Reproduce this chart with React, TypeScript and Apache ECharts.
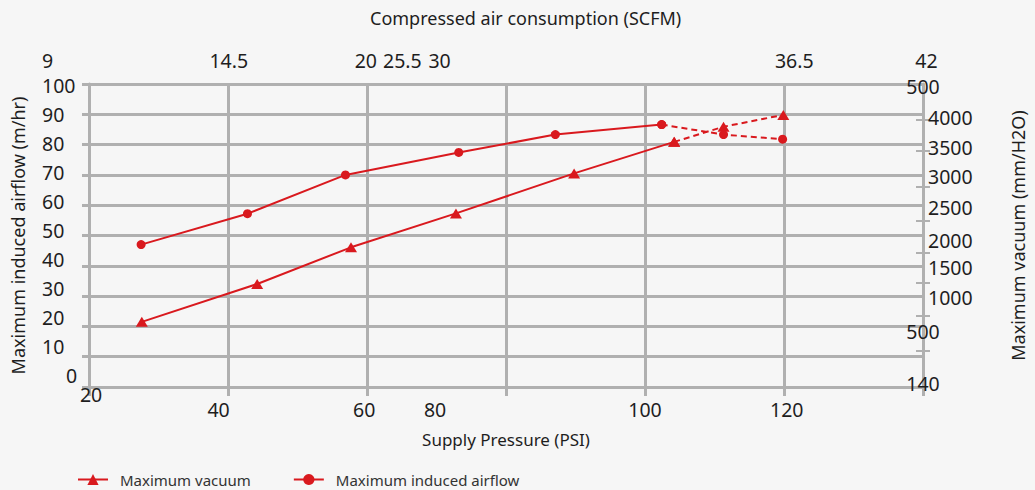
import React, { useEffect, useRef } from "react";
import * as echarts from "echarts";

// ---- data ----
const vacuumPressure = [27.6, 44.2, 57.7, 72.8, 89.8, 104.2, 111.3, 119.9];
const vacuumValue = [21.5, 34.0, 46.1, 57.3, 70.5, 80.9, 85.9, 89.8];
const airflowPressure = [27.5, 42.8, 56.9, 73.2, 87.1, 102.4, 111.3, 119.8];
const airflowValue = [47.0, 57.2, 70.0, 77.4, 83.3, 86.6, 83.3, 81.8];
const solidCount = 6; // first points solid, the rest dashed

// ---- tick labels ----
const bottomLabels = ["40", "60", "80", "100", "120"];
const bottomLabelAt = [38.65, 59.6, 69.8, 100.0, 120.4];
const bottomFirstLabel = ["20"];
const bottomFirstLabelAt = [20.3];
const topLabels = ["9", "14.5", "20", "25.5", "30", "36.5", "42"];
const topLabelAt = [14.1, 39.9, 59.4, 64.6, 69.9, 120.4, 139.2];
const rightLabels = ["4000", "3500", "3000", "2500", "2000", "1500", "1000"];
const rightLabelAt = [89.1, 79.2, 69.6, 59.4, 48.5, 39.6, 29.4];
const rightEdgeLabels = ["500", "500", "140"];
const rightEdgeLabelAt = [99.3, 18.2, 1.3];
const rightTickAt = [88.1, 77.9, 66.0, 54.8, 44.2, 34.3, 23.4, 11.9];

const RED = "#d9191e";
const GRID = "#b0b0b0";
const TXT = "#1e1e1e";
const FONT = "Noto Sans";

function pick(labels: string[], at: number[]) {
  return (v: number) => {
    let best = 0;
    for (let i = 1; i < at.length; i++) {
      if (Math.abs(at[i] - v) < Math.abs(at[best] - v)) best = i;
    }
    return labels[best];
  };
}

export default function App() {
  const ref = useRef<HTMLDivElement>(null);
  useEffect(() => {
    document.body.style.margin = "0";
    const chart = echarts.init(ref.current!, null, { renderer: "svg" });
    const pts = (xs: number[], ys: number[], a: number, b: number) =>
      xs.slice(a, b).map((x, i) => [x, ys[a + i]]);
    const labelStyle = { fontFamily: FONT, fontSize: 19.5, color: TXT };
    const nameStyle = { fontFamily: FONT, fontSize: 18, color: TXT };
    const gridLine = { color: GRID, width: 3 };

    const lineSeries = (name: string, xs: number[], ys: number[], symbol: string, size: any) => [
      {
        name,
        type: "line",
        xAxisIndex: 0,
        yAxisIndex: 0,
        data: pts(xs, ys, 0, solidCount),
        symbol,
        symbolSize: size,
        lineStyle: { color: RED, width: 2 },
        itemStyle: { color: RED },
        z: 5,
      },
      {
        name,
        type: "line",
        xAxisIndex: 0,
        yAxisIndex: 0,
        data: pts(xs, ys, solidCount - 1, xs.length),
        symbol,
        symbolSize: size,
        lineStyle: { color: RED, width: 2, type: [6, 4] },
        itemStyle: { color: RED },
        z: 5,
      },
    ];

    chart.setOption({
      animation: false,
      backgroundColor: "#f6f6f6",
      title: {
        text: "Compressed air consumption (SCFM)",
        left: 370,
        top: 9,
        padding: 0,
        textStyle: { fontFamily: FONT, fontSize: 18, fontWeight: "normal", color: TXT },
      },
      legend: {
        left: 77,
        top: 472,
        padding: 0,
        itemWidth: 30,
        itemHeight: 14,
        itemGap: 42,
        data: ["Maximum vacuum", "Maximum induced airflow"],
        textStyle: { fontFamily: FONT, fontSize: 15, color: "#333", padding: [0, 0, 0, 7] },
      },
      grid: [
        { left: 89, right: 103, top: 84, bottom: 103 },
        { left: 18.75, right: 103, top: 84, bottom: 103 },
        { left: 89, right: 103, top: 85.5, bottom: 115 },
      ],
      xAxis: [
        {
          type: "value",
          gridIndex: 0,
          position: "bottom",
          min: 20,
          max: 140,
          interval: 20,
          name: "Supply Pressure (PSI)",
          nameLocation: "middle",
          nameGap: 44,
          nameTextStyle: { ...nameStyle, fontSize: 17 },
          axisLine: { show: true, lineStyle: gridLine },
          axisTick: { show: true, length: 9, lineStyle: gridLine },
          splitLine: { show: true, lineStyle: gridLine },
          axisLabel: {
            ...labelStyle,
            margin: 12,
            customValues: bottomLabelAt,
            formatter: pick(bottomLabels, bottomLabelAt),
          },
        },
        {
          type: "value",
          gridIndex: 0,
          position: "top",
          min: 20,
          max: 140,
          interval: 20,
          axisLine: { show: false },
          axisTick: { show: true, length: 6, lineStyle: gridLine },
          splitLine: { show: false },
          axisLabel: { show: false },
        },
        {
          type: "value",
          gridIndex: 0,
          position: "bottom",
          min: 20,
          max: 140,
          axisLine: { show: false },
          axisTick: { show: false },
          splitLine: { show: false },
          axisLabel: {
            ...labelStyle,
            margin: -3,
            customValues: bottomFirstLabelAt,
            formatter: pick(bottomFirstLabel, bottomFirstLabelAt),
          },
        },
        {
          type: "value",
          gridIndex: 1,
          position: "top",
          min: 10,
          max: 140,
          axisLine: { show: false },
          axisTick: { show: false },
          splitLine: { show: false },
          axisLabel: {
            ...labelStyle,
            margin: 14,
            customValues: topLabelAt,
            formatter: pick(topLabels, topLabelAt),
          },
        },
        {
          type: "value",
          gridIndex: 2,
          min: 0,
          max: 1,
          show: false,
        },
      ],
      yAxis: [
        {
          type: "value",
          gridIndex: 0,
          position: "left",
          min: 0,
          max: 100,
          interval: 10,
          name: "Maximum induced airflow (m/hr)",
          nameLocation: "middle",
          nameRotate: 90,
          nameGap: 62,
          nameTextStyle: nameStyle,
          axisLine: { show: true, lineStyle: gridLine },
          axisTick: { show: true, length: 7, lineStyle: gridLine },
          splitLine: { show: true, lineStyle: gridLine },
          axisLabel: { show: false },
        },
        {
          type: "value",
          gridIndex: 0,
          position: "right",
          min: 0,
          max: 100,
          name: "Maximum vacuum (mm/H2O)",
          nameLocation: "middle",
          nameRotate: 90,
          nameGap: 86,
          nameTextStyle: nameStyle,
          axisLine: { show: true, lineStyle: gridLine },
          axisTick: { show: true, length: 7, customValues: rightTickAt, lineStyle: { color: GRID, width: 2 } },
          splitLine: { show: false },
          axisLabel: {
            ...labelStyle,
            align: "left",
            margin: 5,
            customValues: rightLabelAt,
            formatter: pick(rightLabels, rightLabelAt),
          },
        },
        {
          type: "value",
          gridIndex: 0,
          position: "right",
          min: 0,
          max: 100,
          axisLine: { show: false },
          axisTick: { show: true, inside: true, length: 7, customValues: rightTickAt, lineStyle: { color: GRID, width: 2 } },
          splitLine: { show: false },
          axisLabel: {
            ...labelStyle,
            align: "center",
            margin: 0,
            customValues: rightEdgeLabelAt,
            formatter: pick(rightEdgeLabels, rightEdgeLabelAt),
          },
        },
        {
          type: "value",
          gridIndex: 1,
          min: 0,
          max: 1,
          show: false,
        },
        {
          type: "value",
          gridIndex: 2,
          position: "left",
          min: 0,
          max: 100,
          interval: 10,
          axisLine: { show: false },
          axisTick: { show: false },
          splitLine: { show: false },
          axisLabel: {
            ...labelStyle,
            align: "left",
            margin: 47,
            formatter: (v: number) => (v === 0 ? "{z|0}" : String(v)),
            rich: { z: { ...labelStyle, padding: [0, 0, 0, 24] } },
          },
        },
      ],
      series: [
        ...lineSeries("Maximum vacuum", vacuumPressure, vacuumValue, "triangle", [12, 10]),
        ...lineSeries("Maximum induced airflow", airflowPressure, airflowValue, "circle", 9),
      ],
    });
    return () => chart.dispose();
  }, []);
  return (
    <div
      ref={ref}
      style={{ position: "absolute", left: 0, top: 0, width: 1035, height: 490, background: "#f6f6f6" }}
    />
  );
}
